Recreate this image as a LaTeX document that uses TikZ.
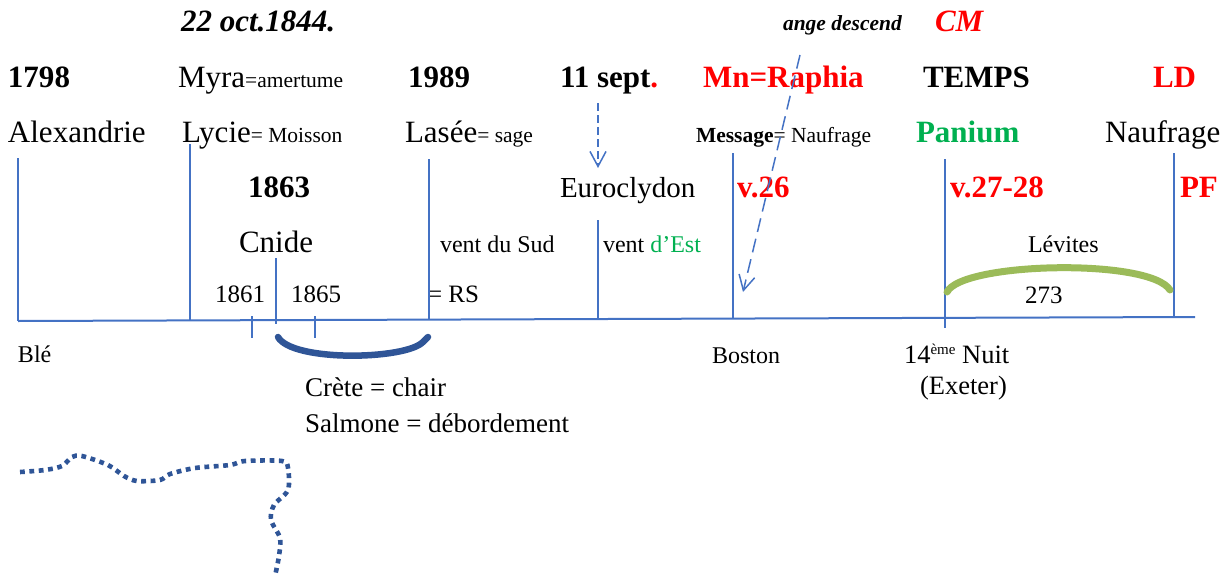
\documentclass[tikz,border=0pt]{standalone}
\usepackage{fontspec}
\setmainfont{Liberation Serif}
\usepackage{xcolor}
\usetikzlibrary{arrows.meta}

\definecolor{lineblue}{HTML}{4472C4}
\definecolor{darkblue}{HTML}{2F5597}
\definecolor{olive}{HTML}{9BBB59}
\definecolor{vert}{HTML}{00B050}
\definecolor{rouge}{HTML}{FF0000}

\newcommand{\midsize}{\fontsize{10.75}{13}\selectfont}

\begin{document}
\begin{tikzpicture}[x=0.5pt,y=-0.5pt,
  every node/.style={anchor=base west, inner sep=0pt, outer sep=0pt},
  big/.style={font=\fontsize{15.5}{18}\selectfont},
  bigbold/.style={font=\fontsize{15.5}{18}\selectfont\bfseries},
  bigit/.style={font=\fontsize{15.5}{18}\selectfont\bfseries\itshape},
  small/.style={font=\fontsize{12}{14}\selectfont},
  smaller/.style={font=\fontsize{12.5}{15}\selectfont},
  lower/.style={font=\fontsize{13.25}{16}\selectfont},
  tline/.style={draw=lineblue, line width=0.75pt},
  dasharrow/.style={draw=lineblue, line width=0.75pt, -{Straight Barb[length=7.5pt,width=8pt]}}]

\useasboundingbox (0,0) rectangle (1220,578);

% top labels
\node (oct) at (181,32) [bigit] {22 oct.1844.};
\node (ange) at (783,30) [font=\midsize\bfseries\itshape] {ange descend};
\node (cm) at (935,32) [bigit, text=rouge] {CM};

% first row
\node (y1798) at (8,87) [bigbold] {1798};
\node (myra) at (178,87) [big] {Myra{\midsize=amertume}};
\node (y1989) at (408,87) [bigbold] {1989};
\node (sept) at (560,87) [bigbold] {11 sept\textcolor{rouge}{.}};
\node (raphia) at (703,87) [bigbold, text=rouge] {Mn=Raphia};
\node (temps) at (923,87) [bigbold] {TEMPS};
\node (ld) at (1153,87) [bigbold, text=rouge] {LD};

% second row
\node (alex) at (8,142) [big] {Alexandrie};
\node (lycie) at (182,142) [big] {Lycie{\midsize= Moisson}};
\node (lasee) at (405,142) [big] {Lasée{\midsize= sage}};
\node (message) at (696,142) [font=\midsize] {\textbf{Message}= Naufrage};
\node (panium) at (916,142) [bigbold, text=vert] {Panium};
\node (naufrage) at (1105,142) [big] {Naufrage};

% third row
\node (y1863) at (248,197) [bigbold] {1863};
\node (euro) at (560,197) [font=\fontsize{14.5}{17}\selectfont] {Euroclydon};
\node (v26) at (737,197) [bigbold, text=rouge] {v.26};
\node (v2728) at (950,197) [bigbold, text=rouge] {v.27-28};
\node (pf) at (1180,197) [bigbold, text=rouge] {PF};

% fourth row
\node (cnide) at (239,252) [big] {Cnide};
\node (sud) at (440,252) [small] {vent du Sud};
\node (est) at (603,252) [small] {vent \textcolor{vert}{d’Est}};
\node (levites) at (1028,252) [small] {Lévites};

% fifth row
\node (y1861) at (215,302) [smaller] {1861};
\node (y1865) at (291,302) [smaller] {1865};
\node (rs) at (428,302) [smaller] {= RS};
\node (n273) at (1025,303) [smaller] {273};

% under the axis
\node (ble) at (18,362) [small] {Blé};
\node (boston) at (712,363) [small] {Boston};
\node (nuit) at (904,363) [lower] {14\raisebox{4.5pt}{\fontsize{7.5}{8}\selectfont ème} Nuit};
\node (exeter) at (920,394) [lower] {(Exeter)};
\node (crete) at (305,396) [font=\fontsize{13.5}{16}\selectfont] {Crète = chair};
\node (salmone) at (305,432) [font=\fontsize{13.5}{16}\selectfont] {Salmone = débordement};

% axis and marks
\draw [draw=lineblue, line width=1pt] (18,321) -- (1195,317);
\draw [tline] (18,158) -- (18,321);
\draw [tline] (190,144) -- (190,320);
\draw [tline] (429,159) -- (429,319);
\draw [tline] (598,220) -- (598,319);
\draw [tline] (733,153) -- (733,318);
\draw [tline] (945,159) -- (945,328);
\draw [tline] (1174,153) -- (1174,317);
\draw [tline] (276,258) -- (276,324);
\draw [tline] (252,316) -- (252,338);
\draw [tline] (315,316) -- (315,338);

% arrows
\coordinate (septA) at (598,103);
\coordinate (septB) at (598,168);
\draw [dasharrow, dash pattern=on 4pt off 2pt] (septA) -- (septB);

\coordinate (angeA) at (800,55);
\coordinate (angeB) at (743,292);
\draw [dasharrow, dash pattern=on 7pt off 3.5pt] (angeA) -- (angeB);

% arcs
\draw [darkblue, line width=3.25pt, line cap=round] (278,337) .. controls (292,362) and (405,360) .. (423,342) -- (428,337);
\draw [olive, line width=3.5pt, line cap=round] (947,292) .. controls (962,262) and (1150,258) .. (1170,290);

% dotted track
\draw [darkblue, line width=2.3pt, dash pattern=on 2.4pt off 2.3pt]
  plot [smooth, tension=0.5] coordinates {(20,472) (45,470) (62,466) (72,457) (82,456) (108,465) (124,476) (137,481) (160,480) (170,474) (195,468) (230,465) (245,461) (282,461) (288,468) (288,490) (274,505) (271,520) (280,538) (279,556) (275,576)};

\end{tikzpicture}
\end{document}
